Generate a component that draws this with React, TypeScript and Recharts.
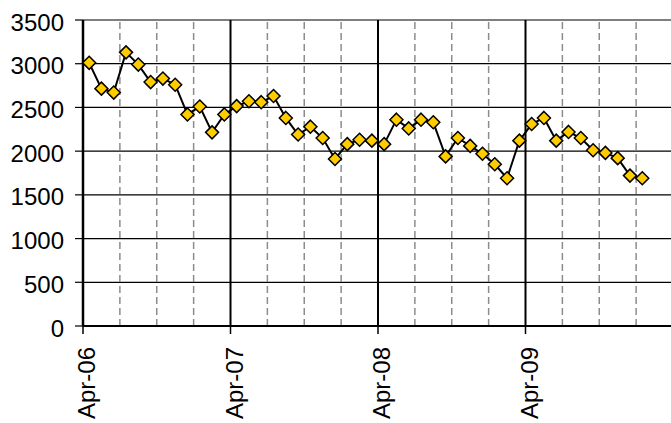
import React from 'react';
import { LineChart, Line, XAxis, YAxis, CartesianGrid, ReferenceLine } from 'recharts';

// monthly readings, Apr-06 .. Jan-10
const months = [
    'Apr-06', 'May-06', 'Jun-06', 'Jul-06', 'Aug-06', 'Sep-06', 'Oct-06', 'Nov-06', 'Dec-06', 'Jan-07', 'Feb-07', 'Mar-07',
    'Apr-07', 'May-07', 'Jun-07', 'Jul-07', 'Aug-07', 'Sep-07', 'Oct-07', 'Nov-07', 'Dec-07', 'Jan-08', 'Feb-08', 'Mar-08',
    'Apr-08', 'May-08', 'Jun-08', 'Jul-08', 'Aug-08', 'Sep-08', 'Oct-08', 'Nov-08', 'Dec-08', 'Jan-09', 'Feb-09', 'Mar-09',
    'Apr-09', 'May-09', 'Jun-09', 'Jul-09', 'Aug-09', 'Sep-09', 'Oct-09', 'Nov-09', 'Dec-09', 'Jan-10',
];

const values = [
    3010, 2715, 2670, 3130, 2990, 2790, 2830, 2760, 2420, 2510, 2215, 2420,
    2515, 2570, 2560, 2630, 2380, 2190, 2280, 2150, 1910, 2080, 2130, 2120,
    2080, 2360, 2260, 2360, 2330, 1940, 2150, 2060, 1970, 1850, 1690, 2120,
    2310, 2380, 2120, 2220, 2150, 2010, 1980, 1920, 1720, 1690,
];

const yearTicks = [0, 12, 24, 36];
const yearLabels = ['Apr-06', 'Apr-07', 'Apr-08', 'Apr-09'];
const quarterLines = [3, 6, 9, 15, 18, 21, 27, 30, 33, 39, 42, 45];
const yTicks = [0, 500, 1000, 1500, 2000, 2500, 3000, 3500];

const FONT = '"Liberation Sans", Arial, sans-serif';

const chartData = values.map((v, i) => ({ m: i + 0.5, month: months[i], value: v }));

const Diamond = (props: any) => {
    const { cx, cy } = props;
    if (cx == null || cy == null) return null;
    const r = 6.5;
    return (
        <polygon
            points={`${cx},${cy - r} ${cx + r},${cy} ${cx},${cy + r} ${cx - r},${cy}`}
            fill="#FFCC00"
            stroke="#000"
            strokeWidth={1.5}
        />
    );
};

const XTick = (props: any) => {
    const { x, y, payload } = props;
    const idx = yearTicks.indexOf(payload.value);
    return (
        <text
            transform={`translate(${x + 12},${y + 11}) rotate(-90)`}
            textAnchor="end"
            fontSize={24}
            fontFamily={FONT}
            fill="#000"
        >
            {yearLabels[idx]}
        </text>
    );
};

const YTick = (props: any) => {
    const { x, y, payload } = props;
    return (
        <text x={x} y={y + 10.5} textAnchor="end" fontSize={24} fontFamily={FONT} fill="#000">
            {payload.value}
        </text>
    );
};

const App: React.FC = () => {
    return (
        <div style={{ position: 'absolute', left: 0, top: 0, width: 671, height: 423, overflow: 'hidden', background: '#fff' }}>
            <LineChart width={673} height={423} data={chartData} margin={{ top: 20, right: 0, left: 0, bottom: 0 }}>
                <CartesianGrid horizontal vertical={false} stroke="#000" strokeWidth={1.2} strokeOpacity={1} />
                {quarterLines.map(q => (
                    <ReferenceLine key={q} x={q} stroke="#8c8c8c" strokeWidth={1.5} strokeDasharray="7 4" />
                ))}
                {yearTicks.slice(1).map(t => (
                    <ReferenceLine key={t} x={t} stroke="#000" strokeWidth={2} />
                ))}
                <XAxis
                    dataKey="m"
                    type="number"
                    domain={[0, 48]}
                    ticks={yearTicks}
                    tick={<XTick />}
                    tickSize={8}
                    tickMargin={2}
                    height={97}
                    axisLine={{ stroke: '#000', strokeWidth: 2 }}
                    tickLine={{ stroke: '#000', strokeWidth: 1.5 }}
                    interval={0}
                />
                <YAxis
                    domain={[0, 3500]}
                    ticks={yTicks}
                    width={83}
                    tick={<YTick />}
                    tickSize={8}
                    tickMargin={11}
                    axisLine={{ stroke: '#000', strokeWidth: 2.5 }}
                    tickLine={{ stroke: '#000', strokeWidth: 1.2 }}
                    interval={0}
                />
                <Line
                    type="linear"
                    dataKey="value"
                    stroke="#000"
                    strokeWidth={2}
                    dot={<Diamond />}
                    isAnimationActive={false}
                />
            </LineChart>
        </div>
    );
};

export default App;
